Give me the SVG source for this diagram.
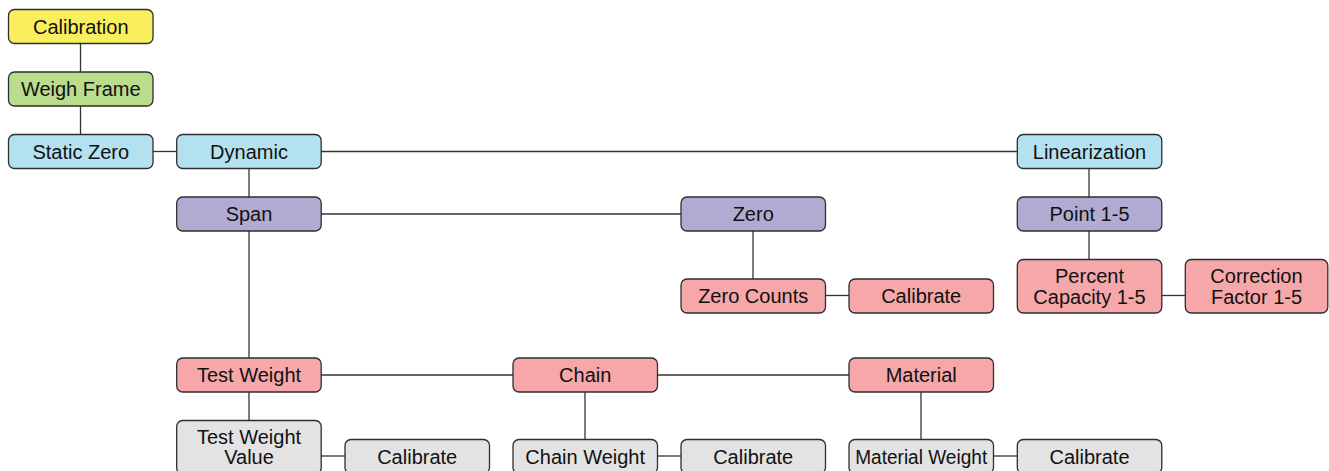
<svg xmlns="http://www.w3.org/2000/svg" width="1329" height="471" viewBox="0 0 1329 471">
<style>
rect{stroke:#2e2e2e;stroke-width:1.3}
.y{fill:#f9ef5e}.g{fill:#badc8c}.b{fill:#b4e1f0}.p{fill:#b1abd1}.r{fill:#f6a7a9}.w{fill:#e2e3e2}
text{font-family:"Liberation Sans",Arial,sans-serif;font-size:20px;fill:#111;text-anchor:middle}
#connectors line{stroke:#333;stroke-width:1.3}
</style>
<rect width="1329" height="471" fill="#fff" style="stroke:none"/>
<g id="connectors">
<line x1="80.5" y1="43.5" x2="80.5" y2="72"/>
<line x1="80.5" y1="106" x2="80.5" y2="134.5"/>
<line x1="153" y1="151.5" x2="177" y2="151.5"/>
<line x1="321" y1="151.5" x2="1017" y2="151.5"/>
<line x1="249" y1="168.5" x2="249" y2="197"/>
<line x1="321" y1="214" x2="681" y2="214"/>
<line x1="249" y1="231" x2="249" y2="358"/>
<line x1="753" y1="231" x2="753" y2="279"/>
<line x1="825" y1="295.5" x2="849" y2="295.5"/>
<line x1="1089" y1="168.5" x2="1089" y2="197"/>
<line x1="1089" y1="231" x2="1089" y2="259.5"/>
<line x1="1161" y1="295.5" x2="1185" y2="295.5"/>
<line x1="321" y1="375" x2="513" y2="375"/>
<line x1="657" y1="375" x2="849" y2="375"/>
<line x1="249" y1="392" x2="249" y2="420.5"/>
<line x1="321" y1="456" x2="345" y2="456"/>
<line x1="585" y1="392" x2="585" y2="439.5"/>
<line x1="657" y1="456" x2="681" y2="456"/>
<line x1="921" y1="392" x2="921" y2="439.5"/>
<line x1="993" y1="456" x2="1017" y2="456"/>
</g>
<g id="n-calibration"><rect class="y" x="8.5" y="9.5" width="144.5" height="34" rx="6"/><text x="80.75" y="33.5">Calibration</text></g>
<g id="n-weighframe"><rect class="g" x="8.5" y="72" width="144.5" height="34" rx="6"/><text x="80.75" y="96">Weigh Frame</text></g>
<g id="n-staticzero"><rect class="b" x="8.5" y="134.5" width="144.5" height="34" rx="6"/><text x="80.75" y="158.5">Static Zero</text></g>
<g id="n-dynamic"><rect class="b" x="176.7" y="134.5" width="144.5" height="34" rx="6"/><text x="249" y="158.5">Dynamic</text></g>
<g id="n-linearization"><rect class="b" x="1017.3" y="134.5" width="144.5" height="34" rx="6"/><text x="1089.5" y="158.5">Linearization</text></g>
<g id="n-span"><rect class="p" x="176.7" y="197" width="144.5" height="34" rx="6"/><text x="249" y="221">Span</text></g>
<g id="n-zero"><rect class="p" x="681" y="197" width="144.5" height="34" rx="6"/><text x="753.2" y="221">Zero</text></g>
<g id="n-point"><rect class="p" x="1017.3" y="197" width="144.5" height="34" rx="6"/><text x="1089.5" y="221">Point 1-5</text></g>
<g id="n-zerocounts"><rect class="r" x="681" y="279" width="144.5" height="34" rx="6"/><text x="753.2" y="303">Zero Counts</text></g>
<g id="n-calibrate1"><rect class="r" x="849" y="279" width="144.5" height="34" rx="6"/><text x="921.2" y="303">Calibrate</text></g>
<g id="n-percent"><rect class="r" x="1017.3" y="259.5" width="144.5" height="53.5" rx="6"/><text x="1089.5" y="283">Percent</text><text x="1089.5" y="304">Capacity 1-5</text></g>
<g id="n-correction"><rect class="r" x="1185.3" y="259.5" width="142.5" height="53.5" rx="6"/><text x="1256.5" y="283">Correction</text><text x="1256.5" y="304">Factor 1-5</text></g>
<g id="n-testweight"><rect class="r" x="176.7" y="358" width="144.5" height="34" rx="6"/><text x="249" y="382">Test Weight</text></g>
<g id="n-chain"><rect class="r" x="513" y="358" width="144.5" height="34" rx="6"/><text x="585.2" y="382">Chain</text></g>
<g id="n-material"><rect class="r" x="849" y="358" width="144.5" height="34" rx="6"/><text x="921.2" y="382">Material</text></g>
<g id="n-twvalue"><rect class="w" x="176.7" y="420.5" width="144.5" height="53.5" rx="6"/><text x="249" y="444">Test Weight</text><text x="249" y="464">Value</text></g>
<g id="n-calibrate2"><rect class="w" x="345" y="439.5" width="144.5" height="34" rx="6"/><text x="417.2" y="463.5">Calibrate</text></g>
<g id="n-chainweight"><rect class="w" x="513" y="439.5" width="144.5" height="34" rx="6"/><text x="585.2" y="463.5">Chain Weight</text></g>
<g id="n-calibrate3"><rect class="w" x="681" y="439.5" width="144.5" height="34" rx="6"/><text x="753.2" y="463.5">Calibrate</text></g>
<g id="n-materialweight"><rect class="w" x="849" y="439.5" width="144.5" height="34" rx="6"/><text x="921.2" y="463.5" textLength="132" lengthAdjust="spacingAndGlyphs">Material Weight</text></g>
<g id="n-calibrate4"><rect class="w" x="1017.3" y="439.5" width="144.5" height="34" rx="6"/><text x="1089.5" y="463.5">Calibrate</text></g>
</svg>
